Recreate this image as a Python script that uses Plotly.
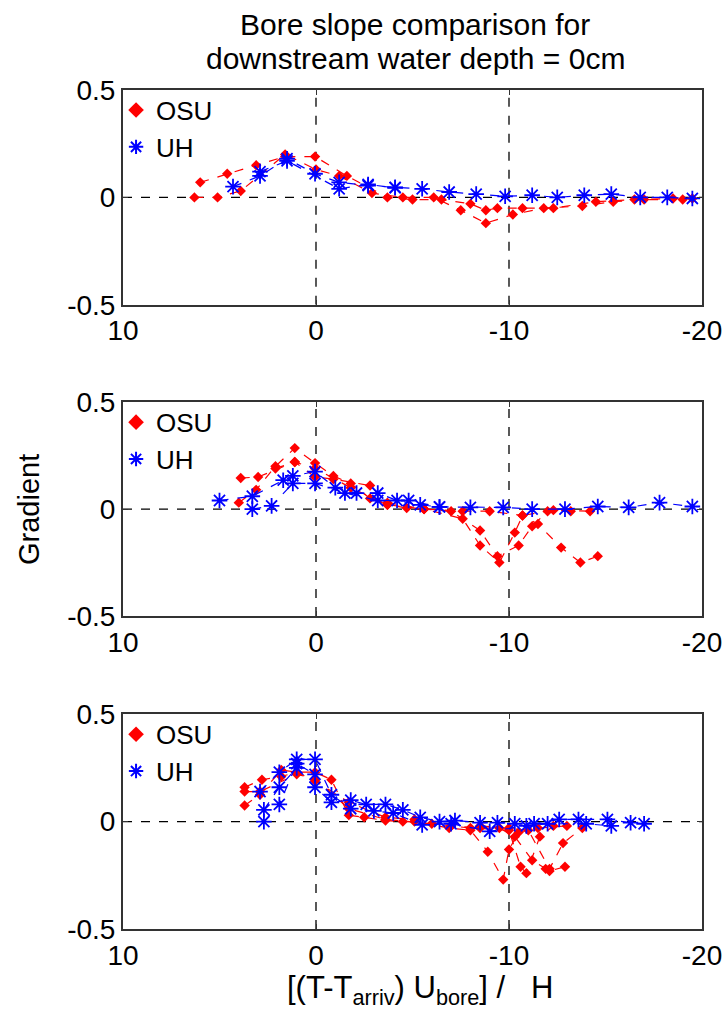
import plotly.graph_objects as go

# ---------------- data ----------------
# Panel 1
p1_osu_a_x = [6.3, 5.1, 3.9, 1.6, 0.0, -1.2, -2.9, -4.5, -6.1, -7.5, -8.8, -10.2, -11.8, -13.8, -15.4, -17.0, -19.0]
p1_osu_a_y = [0.0, 0.0, 0.03, 0.2, 0.13, 0.1, 0.02, 0.0, 0.0, -0.06, -0.12, -0.08, -0.05, -0.04, -0.02, -0.01, -0.01]
p1_osu_b_x = [6.0, 4.6, 3.1, 1.6, 0.05, -1.6, -3.7, -5.0, -6.5, -8.0, -8.8, -9.4, -10.7, -12.3, -14.5, -16.5, -18.5, -19.5]
p1_osu_b_y = [0.07, 0.11, 0.15, 0.19, 0.19, 0.1, 0.0, -0.01, -0.01, -0.03, -0.06, -0.05, -0.05, -0.05, -0.02, -0.01, -0.005, -0.005]
p1_uh_a_x = [4.3, 2.9, 1.5, 0.05, -1.2, -2.7, -4.1, -5.5, -6.9, -8.3, -9.8, -11.2, -12.5, -13.9, -15.3, -16.8, -18.2, -19.5]
p1_uh_a_y = [0.05, 0.1, 0.18, 0.11, 0.07, 0.055, 0.047, 0.04, 0.025, 0.015, 0.005, 0.01, 0.0, 0.01, 0.015, 0.0, 0.0, -0.005]
p1_uh_b_x = [2.9, 1.5, -1.2, -2.7, -4.1]
p1_uh_b_y = [0.12, 0.17, 0.04, 0.06, 0.045]

# Panel 2
p2_osu_a_x = [4.0, 3.1, 2.1, 1.1, 0.05, -0.9, -1.8, -2.8, -3.7, -4.7, -5.6, -7.6, -8.5, -9.5, -10.3, -10.7, -12.3, -14.2]
p2_osu_a_y = [0.03, 0.09, 0.2, 0.285, 0.215, 0.155, 0.12, 0.05, 0.02, 0.005, 0.0, -0.045, -0.17, -0.25, -0.11, -0.03, -0.005, -0.01]
p2_osu_b_x = [3.9, 3.0, 1.1, 0.05, -0.9, -2.8, -3.7, -5.6, -7.0, -8.5, -9.4, -10.5, -11.2, -12.0, -13.2]
p2_osu_b_y = [0.145, 0.15, 0.22, 0.15, 0.14, 0.11, 0.03, 0.0, -0.01, -0.1, -0.22, -0.17, -0.08, -0.01, -0.01]
p2_osu_c_x = [2.1, 1.1, 0.05, -1.8, -3.7, -5.6, -7.6, -9.0, -10.7, -11.5, -12.7, -13.7, -14.6]
p2_osu_c_y = [0.19, 0.22, 0.19, 0.1, 0.02, 0.0, -0.01, -0.01, -0.03, -0.07, -0.18, -0.25, -0.22]
p2_uh_a_x = [5.0, 3.3, 1.7, 1.2, 0.05, -1.0, -2.1, -3.2, -4.2, -5.4, -6.4, -8.0, -9.7, -11.2, -12.9, -14.6, -16.2, -17.8, -19.5]
p2_uh_a_y = [0.04, 0.06, 0.135, 0.155, 0.175, 0.1, 0.075, 0.075, 0.04, 0.02, 0.01, 0.008, 0.008, 0.0, 0.0, 0.012, 0.008, 0.03, 0.012]
p2_uh_b_x = [3.3, 2.3, 1.2, 0.05, -1.5, -3.2, -4.8, -6.4]
p2_uh_b_y = [0.0, 0.015, 0.12, 0.12, 0.075, 0.04, 0.04, 0.01]

# Panel 3
p3_osu_a_x = [3.7, 2.9, 1.8, 1.0, 0.05, -0.8, -1.7, -2.5, -3.6, -4.5, -5.1, -6.9, -8.0, -8.9, -9.7, -10.0, -10.5, -11.5, -13.0]
p3_osu_a_y = [0.075, 0.125, 0.24, 0.23, 0.23, 0.195, 0.03, 0.02, 0.005, 0.0, 0.0, -0.03, -0.04, -0.14, -0.27, -0.13, -0.05, -0.03, -0.02]
p3_osu_b_x = [3.7, 2.8, 1.8, 1.0, 0.05, -1.7, -3.6, -5.1, -7.0, -8.5, -9.5, -10.3, -11.2, -11.9, -12.1, -12.9]
p3_osu_b_y = [0.16, 0.195, 0.21, 0.23, 0.19, 0.09, 0.02, 0.01, -0.02, -0.03, -0.03, -0.07, -0.18, -0.22, -0.23, -0.21]
p3_osu_c_x = [3.7, 2.9, 1.0, 0.05, -1.7, -3.6, -6.0, -8.0, -10.0, -10.6, -10.9, -11.6, -12.3]
p3_osu_c_y = [0.14, 0.14, 0.22, 0.2, 0.06, 0.01, -0.01, -0.03, -0.04, -0.21, -0.24, -0.07, -0.02]
p3_osu_d_x = [-8.5, -10.0, -11.0, -12.1, -12.8, -13.8]
p3_osu_d_y = [-0.02, -0.03, -0.04, -0.22, -0.1, -0.03]
p3_uh_a_x = [2.7, 1.9, 1.0, 0.05, -0.8, -1.8, -2.6, -3.6, -4.5, -5.4, -6.4, -7.2, -8.5, -9.4, -10.3, -11.3, -12.6, -13.6, -15.1, -16.3, -17.0]
p3_uh_a_y = [0.055, 0.16, 0.25, 0.16, 0.09, 0.1, 0.08, 0.08, 0.055, 0.02, 0.0, 0.005, -0.005, -0.005, -0.01, -0.01, 0.01, 0.01, 0.01, -0.005, -0.01]
p3_uh_b_x = [2.9, 1.9, 1.0, 0.05, -0.8, -1.8, -3.0, -4.0, -5.5, -7.0, -9.0, -10.9, -12.0, -14.0, -15.3]
p3_uh_b_y = [0.14, 0.23, 0.29, 0.29, 0.125, 0.06, 0.05, 0.04, -0.015, -0.01, -0.045, -0.02, -0.01, -0.01, -0.02]
p3_uh_c_x = [2.7, 1.9, 1.0, 0.05]
p3_uh_c_y = [0.0, 0.08, 0.27, 0.22]

x_ticks = [10, 0, -10, -20]
y_ticks = [-0.5, 0, 0.5]
series_names = ["OSU", "UH"]

RED = "#ff0000"
BLUE = "#0000ff"
FONT = "Liberation Sans, Arial, sans-serif"

panels = [
    ([(p1_osu_a_x, p1_osu_a_y), (p1_osu_b_x, p1_osu_b_y)],
     [(p1_uh_a_x, p1_uh_a_y), (p1_uh_b_x, p1_uh_b_y)]),
    ([(p2_osu_a_x, p2_osu_a_y), (p2_osu_b_x, p2_osu_b_y), (p2_osu_c_x, p2_osu_c_y)],
     [(p2_uh_a_x, p2_uh_a_y), (p2_uh_b_x, p2_uh_b_y)]),
    ([(p3_osu_a_x, p3_osu_a_y), (p3_osu_b_x, p3_osu_b_y), (p3_osu_c_x, p3_osu_c_y), (p3_osu_d_x, p3_osu_d_y)],
     [(p3_uh_a_x, p3_uh_a_y), (p3_uh_b_x, p3_uh_b_y), (p3_uh_c_x, p3_uh_c_y)]),
]

domains = [[0.744, 1.0], [0.373, 0.628], [0.0, 0.256]]

fig = go.Figure()
osu_marker = dict(symbol="diamond", size=8, color=RED)
uh_marker = dict(symbol="asterisk-open", size=13, color=BLUE, line=dict(color=BLUE, width=1.8))

for i, (osu, uh) in enumerate(panels):
    k = "" if i == 0 else str(i + 1)
    xa, ya = "x" + k, "y" + k
    lg = "legend" + k
    for (xs, ys) in osu:
        fig.add_trace(go.Scatter(x=xs, y=ys, xaxis=xa, yaxis=ya, mode="lines+markers",
                                 line=dict(color=RED, width=1.2, dash="dash"),
                                 marker=osu_marker, showlegend=False))
    for (xs, ys) in uh:
        fig.add_trace(go.Scatter(x=xs, y=ys, xaxis=xa, yaxis=ya, mode="lines+markers",
                                 line=dict(color=BLUE, width=1.2, dash="dash"),
                                 marker=uh_marker, showlegend=False))
    # legend entries
    fig.add_trace(go.Scatter(x=[None], y=[None], xaxis=xa, yaxis=ya, mode="markers",
                             marker=osu_marker, name=series_names[0], legend=lg))
    fig.add_trace(go.Scatter(x=[None], y=[None], xaxis=xa, yaxis=ya, mode="markers",
                             marker=uh_marker, name=series_names[1], legend=lg))
    # reference dashed lines
    for xv in [0, -10]:
        fig.add_shape(type="line", xref=xa, yref=ya, x0=xv, x1=xv, y0=-0.5, y1=0.5,
                      line=dict(color="black", width=1.3, dash="dash"), layer="below")
    fig.add_shape(type="line", xref=xa, yref=ya, x0=10, x1=-20, y0=0, y1=0,
                  line=dict(color="black", width=1.3, dash="dash"), layer="below")

    axis_common = dict(showgrid=False, zeroline=False, showline=True, mirror="ticks",
                       linecolor="#333333", linewidth=2, ticks="inside", ticklen=5,
                       tickcolor="#333333", tickwidth=1,
                       tickfont=dict(family=FONT, size=28, color="black"))
    fig.layout["xaxis" + k] = dict(axis_common, range=[10, -20], tickvals=x_ticks,
                                   ticktext=[str(v) for v in x_ticks],
                                   anchor=ya, domain=[0, 1])
    fig.layout["yaxis" + k] = dict(axis_common, range=[-0.5, 0.5], tickvals=y_ticks,
                                   ticktext=["-0.5", "0", "0.5"],
                                   anchor=xa, domain=domains[i])
    fig.layout[lg] = dict(x=-0.012, y=domains[i][1] + 0.004, xanchor="left", yanchor="top",
                          bgcolor="rgba(0,0,0,0)", borderwidth=0,
                          font=dict(family=FONT, size=26, color="black"),
                          itemsizing="constant", tracegroupgap=0)

fig.update_layout(
    width=726, height=1015,
    margin=dict(l=123, r=24, t=90, b=86, autoexpand=False),
    paper_bgcolor="white", plot_bgcolor="white",
)

# title (two lines)
title_x = 0.505
fig.add_annotation(text="Bore slope comparison for", xref="paper", yref="paper",
                   x=title_x, y=(929 - 24) / 839, xanchor="center", yanchor="middle",
                   showarrow=False, font=dict(family=FONT, size=30, color="black"))
fig.add_annotation(text="downstream water depth = 0cm", xref="paper", yref="paper",
                   x=title_x, y=(929 - 59) / 839, xanchor="center", yanchor="middle",
                   showarrow=False, font=dict(family=FONT, size=30, color="black"))

fig.add_annotation(text="Gradient", xref="paper", yref="paper", x=(29 - 123) / 579, y=(929 - 509) / 839,
                   xanchor="center", yanchor="middle", textangle=-90, showarrow=False,
                   font=dict(family=FONT, size=29, color="black"))
fig.add_annotation(text="[(T-T<sub>arriv</sub>) U<sub>bore</sub>] /   H", xref="paper", yref="paper",
                   x=(420 - 123) / 579, y=(929 - 990) / 839, xanchor="center", yanchor="middle",
                   showarrow=False, font=dict(family=FONT, size=31, color="black"))

# remove the default page margin so the 726x1015 figure fills the window exactly
fig.write_html("out.html",
               config={"displayModeBar": False},
               post_script="document.body.style.margin='0';document.body.style.overflow='hidden';")
